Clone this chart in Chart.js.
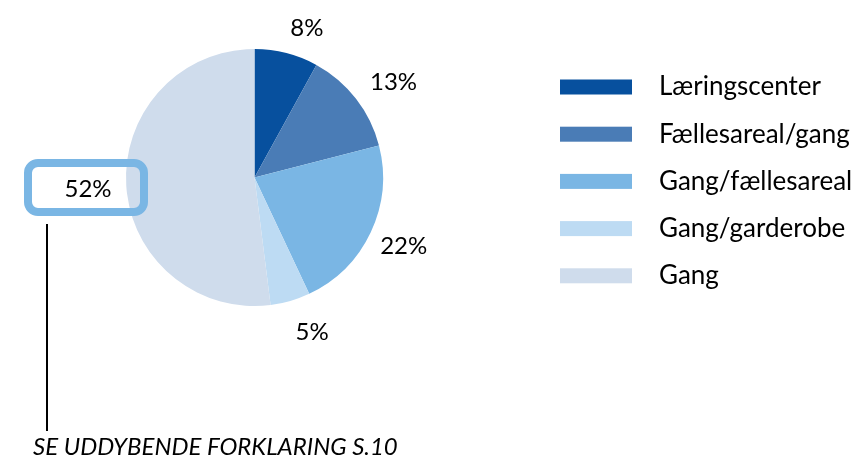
<!DOCTYPE html>
<html>
<head>
<meta charset="utf-8">
<script src="https://cdn.jsdelivr.net/npm/chart.js@4"></script>
<style>
  html, body { margin: 0; padding: 0; background: #fff; }
  #wrap { width: 862px; height: 460px; position: relative; }
</style>
</head>
<body>
<div id="wrap"><canvas id="pie"></canvas></div>
<script>
// data
const labels = ['Læringscenter', 'Fællesareal/gang', 'Gang/fællesareal', 'Gang/garderobe', 'Gang'];
const shares = [8, 13, 22, 5, 52];
const colors = ['#07509e', '#4a7cb6', '#7ab6e4', '#bddbf3', '#cfdcec'];
const footnote = 'SE UDDYBENDE FORKLARING S.10';

const FONT = 'Lato, "Open Sans", sans-serif';

// percent labels outside the slices, the big one in a box with a pointer line
const labelPlugin = {
  id: 'pctLabels',
  afterDatasetsDraw(chart, args, opts) {
    const ctx = chart.ctx;
    const meta = chart.getDatasetMeta(0);
    ctx.save();
    ctx.font = '24px ' + FONT;
    ctx.fillStyle = '#000';
    ctx.textAlign = 'center';
    ctx.textBaseline = 'middle';
    meta.data.forEach((arc, i) => {
      const txt = shares[i] + '%';
      if (i === opts.boxed) {
        // boxed label to the left
        ctx.strokeStyle = colors[2];
        ctx.lineWidth = 8;
        ctx.beginPath();
        ctx.roundRect(28, 163, 116, 49, 10);
        ctx.stroke();
        ctx.fillStyle = '#000';
        ctx.fillText(txt, 88, 189);
        ctx.lineWidth = 2;
        ctx.strokeStyle = '#000';
        ctx.beginPath();
        ctx.moveTo(47, 224);
        ctx.lineTo(47, 431);
        ctx.stroke();
        return;
      }
      const mid = (arc.startAngle + arc.endAngle) / 2 + (opts.nudge[i] || 0) * Math.PI / 180;
      const d = arc.outerRadius + opts.gap[i];
      ctx.fillText(txt, arc.x + Math.cos(mid) * d, arc.y + Math.sin(mid) * d);
    });
    ctx.restore();
  }
};

// legend on the right side
const legendPlugin = {
  id: 'sideLegend',
  afterDraw(chart) {
    const ctx = chart.ctx;
    ctx.save();
    ctx.font = '26px ' + FONT;
    ctx.textBaseline = 'middle';
    labels.forEach((lab, i) => {
      const y = 87 + i * 47.2;
      ctx.fillStyle = colors[i];
      ctx.fillRect(560, y - 7.5, 72, 15);
      ctx.fillStyle = '#000';
      ctx.fillText(lab, 659, y);
    });
    ctx.font = 'italic 24px ' + FONT;
    ctx.textBaseline = 'alphabetic';
    ctx.fillText(footnote, 33, 455);
    ctx.restore();
  }
};

new Chart(document.getElementById('pie'), {
  type: 'pie',
  data: {
    labels: labels,
    datasets: [{
      data: shares,
      backgroundColor: colors,
      borderWidth: 0
    }]
  },
  options: {
    responsive: true,
    maintainAspectRatio: false,
    animation: false,
    layout: { padding: { left: 126, right: 479, top: 49, bottom: 154 } },
    plugins: {
      legend: { display: false },
      tooltip: { enabled: false },
      pctLabels: { boxed: 4, gap: [30, 40, 36, 37], nudge: [4.9, 3.4, -0.3, -4.2] }
    }
  },
  plugins: [labelPlugin, legendPlugin]
});
</script>
</body>
</html>
